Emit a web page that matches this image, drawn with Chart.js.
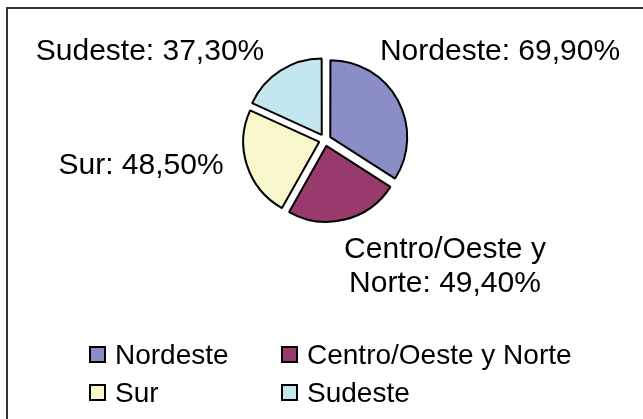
<!DOCTYPE html>
<html lang="es">
<head>
  <meta charset="UTF-8">
  <title>Distribución por región</title>
  <script src="https://cdn.jsdelivr.net/npm/chart.js"></script>
  <style>
    html, body { margin: 0; padding: 0; background: #fff; overflow: hidden; }
    .frame { position: absolute; left: 6px; top: 7px; width: 700px; height: 500px;
             border-left: 2px solid #333; border-top: 2px solid #333; }
    canvas { position: absolute; left: 0; top: 0; }
  </style>
</head>
<body>
  <div class="frame"></div>
  <canvas id="pie" width="643" height="419"></canvas>

  <script>
    const regiones = ['Nordeste', 'Centro/Oeste y Norte', 'Sur', 'Sudeste'];
    const valores = [69.90, 49.40, 48.50, 37.30];
    const colores = ['#8b8dc7', '#983a6b', '#f8f7cb', '#c3e6ef'];

    const FONT = '"Liberation Sans", Arial, Helvetica, sans-serif';

    // etiquetas fuera del pastel, desplazadas desde el centro (como en Excel)
    const labelOffsets = [
      { dx: 175, dy: -80 },
      { dx: 120, dy: 118 },
      { dx: -184, dy: 34 },
      { dx: -175, dy: -80 }
    ];

    function fmt(v) {
      return v.toFixed(2).replace('.', ',') + '%';
    }

    function wrap(ctx, text, maxW) {
      const words = text.split(' ');
      const lines = [];
      let cur = '';
      words.forEach(w => {
        const test = cur ? cur + ' ' + w : w;
        if (ctx.measureText(test).width > maxW && cur) {
          lines.push(cur);
          cur = w;
        } else {
          cur = test;
        }
      });
      if (cur) lines.push(cur);
      return lines;
    }

    const pieLabels = {
      id: 'pieLabels',
      afterDatasetsDraw(chart) {
        const ctx = chart.ctx;
        const meta = chart.getDatasetMeta(0);
        ctx.save();
        ctx.font = '30px ' + FONT;
        ctx.fillStyle = '#000';
        ctx.textAlign = 'center';
        ctx.textBaseline = 'alphabetic';
        meta.data.forEach((arc, i) => {
          const text = chart.data.labels[i] + ': ' + fmt(chart.data.datasets[0].data[i]);
          const lines = wrap(ctx, text, 260);
          const o = labelOffsets[i];
          lines.forEach((ln, j) => {
            ctx.fillText(ln, arc.x + o.dx, arc.y + o.dy + j * 34);
          });
        });
        ctx.restore();
      }
    };

    const gridLegend = {
      id: 'gridLegend',
      afterDraw(chart) {
        const ctx = chart.ctx;
        const cols = [90, 282];
        const rows = [347, 385];
        ctx.save();
        ctx.font = '28px ' + FONT;
        ctx.textBaseline = 'alphabetic';
        ctx.textAlign = 'left';
        chart.data.labels.forEach((lab, i) => {
          const x = cols[i % 2];
          const y = rows[Math.floor(i / 2)];
          ctx.fillStyle = chart.data.datasets[0].backgroundColor[i];
          ctx.fillRect(x, y, 15, 15);
          ctx.strokeStyle = '#000';
          ctx.lineWidth = 2;
          ctx.strokeRect(x, y, 15, 15);
          ctx.fillStyle = '#000';
          ctx.fillText(lab, x + 25, y + 17);
        });
        ctx.restore();
      }
    };

    new Chart(document.getElementById('pie'), {
      type: 'pie',
      data: {
        labels: regiones,
        datasets: [{
          data: valores,
          backgroundColor: colores,
          borderColor: '#000',
          borderWidth: 2,
          offset: 24,
          hoverOffset: 0
        }]
      },
      options: {
        responsive: false,
        animation: false,
        layout: { padding: { left: 236, right: 229, top: 51, bottom: 190 } },
        plugins: {
          legend: { display: false },
          tooltip: { enabled: false }
        }
      },
      plugins: [pieLabels, gridLegend]
    });
  </script>
</body>
</html>
